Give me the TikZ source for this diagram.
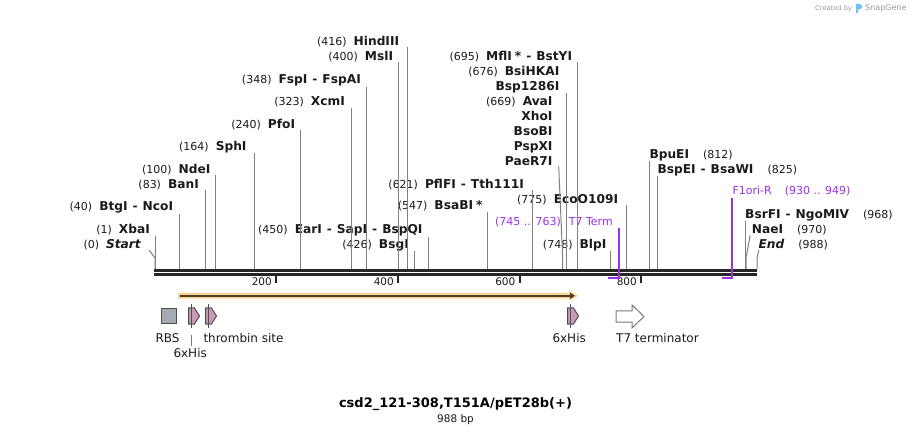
\documentclass[tikz,border=0pt]{standalone}
\usepackage{fontspec}
\setmainfont{DejaVu Sans}
\usepackage{tikz}
\usetikzlibrary{arrows.meta,shapes.symbols}
\definecolor{cback}{HTML}{262626}
\definecolor{csite}{HTML}{808080}
\definecolor{ctext}{HTML}{1A1A1A}
\definecolor{cprimer}{HTML}{9B30E8}
\definecolor{cglow}{HTML}{FBD38C}
\definecolor{cglowline}{HTML}{4A3F2E}
\definecolor{crbs}{HTML}{A5ABB2}
\definecolor{chis}{HTML}{C99AB6}
\definecolor{cfeatborder}{HTML}{4D4D4D}
\definecolor{cterm}{HTML}{7A7A7A}
\definecolor{cwm}{HTML}{9A9A9A}
\definecolor{cwmlogo}{HTML}{6CC4EE}
\newcommand{\enz}[1]{{\fontsize{12.2}{14}\selectfont\bfseries #1}}
\newcommand{\enzsep}{\hspace{5pt}-\hspace{5pt}}
\newcommand{\posgap}{\hspace{7pt}}
\newcommand{\posgapr}{\hspace{14pt}}

\begin{document}
\begin{tikzpicture}[
    x=1pt, y=-1pt,
    lbl/.style={font=\fontsize{11}{13}\selectfont, inner sep=0pt, text=ctext},
    lbll/.style={lbl, anchor=base east},
    lblr/.style={lbl, anchor=base west},
    plbl/.style={lbl, text=cprimer},
    cut/.style={draw=csite, line width=1pt},
    bb/.style={draw=cback, line width=2.7pt},
    tickmark/.style={draw=cback, line width=2pt},
    ticklbl/.style={font=\fontsize{10.5}{12}\selectfont, inner sep=0pt, anchor=base east, text=ctext},
    primer/.style={draw=cprimer, line width=2pt},
    rbs/.style={draw=cfeatborder, fill=crbs, line width=1pt, minimum size=15pt, inner sep=0pt},
    his/.style={signal, signal to=east, signal pointer angle=116, draw=cfeatborder, fill=chis,
                line width=1pt, minimum width=11pt, minimum height=16pt, inner sep=0pt},
    featb/.style={draw=cfeatborder, line width=1pt},
    flbl/.style={font=\fontsize{12}{14}\selectfont, inner sep=0pt, anchor=base west, text=ctext},
    wm/.style={inner sep=0pt, anchor=base west, text=cwm}
]
\useasboundingbox (0,0) rectangle (912,435);

% cut positions on the backbone
\coordinate (c0) at (155,269);
\coordinate (c1) at (155.6,269);
\coordinate (c40) at (179,269);
\coordinate (c83) at (205.6,269);
\coordinate (c100) at (215.5,269);
\coordinate (c164) at (254.5,269);
\coordinate (c240) at (300.5,269);
\coordinate (c323) at (351.5,269);
\coordinate (c348) at (366.5,269);
\coordinate (c400) at (398.3,269);
\coordinate (c416) at (407.5,269);
\coordinate (c426) at (414.3,269);
\coordinate (c450) at (428.5,269);
\coordinate (c547) at (487.5,269);
\coordinate (c621) at (532.5,269);
\coordinate (c669) at (562.7,269);
\coordinate (c676) at (566.7,269);
\coordinate (c695) at (577.5,269);
\coordinate (c748) at (610.3,269);
\coordinate (c775) at (626.5,269);
\coordinate (c812) at (649.7,269);
\coordinate (c825) at (657.7,269);
\coordinate (c968) at (745,269);
\coordinate (c970) at (746,269);
\coordinate (c988) at (757,269);

% enzyme labels, left of their line
\node[lbll] (l0) at (141,248.3) {(0)\posgap\enz{\itshape Start}};
\node[lbll] (l1) at (150,234) {(1)\posgap\enz{XbaI}};
\node[lbll] (l40) at (173.3,210.7) {(40)\posgap\enz{BtgI\enzsep NcoI}};
\node[lbll] (l83) at (199,188.3) {(83)\posgap\enz{BanI}};
\node[lbll] (l100) at (210.7,173.3) {(100)\posgap\enz{NdeI}};
\node[lbll] (l164) at (246.7,150.7) {(164)\posgap\enz{SphI}};
\node[lbll] (l240) at (295.3,128.7) {(240)\posgap\enz{PfoI}};
\node[lbll] (l323) at (345,106) {(323)\posgap\enz{XcmI}};
\node[lbll] (l348) at (361,84) {(348)\posgap\enz{FspI\enzsep FspAI}};
\node[lbll] (l400) at (393.3,60.7) {(400)\posgap\enz{MslI}};
\node[lbll] (l416) at (399.3,45.7) {(416)\posgap\enz{HindIII}};
\node[lbll] (l426) at (409,248.3) {(426)\posgap\enz{BsgI}};
\node[lbll] (l450) at (422.7,234) {(450)\posgap\enz{EarI\enzsep SapI\enzsep BspQI}};
\node[lbll] (l547) at (482.7,210) {(547)\posgap\enz{BsaBI\hspace{3pt}*}};
\node[lbll] (l621) at (524,188.7) {(621)\posgap\enz{PflFI\enzsep Tth111I}};
\node[lbll] (l669a) at (552.7,106) {(669)\posgap\enz{AvaI}};
\node[lbll] (l669b) at (552.7,121) {\enz{XhoI}};
\node[lbll] (l669c) at (552.7,136) {\enz{BsoBI}};
\node[lbll] (l669d) at (552.7,151) {\enz{PspXI}};
\node[lbll] (l669e) at (552.7,166) {\enz{PaeR7I}};
\node[lbll] (l676a) at (559.5,75.7) {(676)\posgap\enz{BsiHKAI}};
\node[lbll] (l676b) at (559.5,90.7) {\enz{Bsp1286I}};
\node[lbll] (l695) at (572.3,60.7) {(695)\posgap\enz{MflI\hspace{3pt}*\enzsep BstYI}};
\node[lbll] (l748) at (606.5,248.3) {(748)\posgap\enz{BlpI}};
\node[lbll] (l775) at (618.3,203.3) {(775)\posgap\enz{EcoO109I}};
\node[plbl, anchor=base east] (t7p) at (613,225.7) {(745 .. 763)\hspace{8pt}T7 Term};

% enzyme labels, right of their line
\node[lblr] (l812) at (649.3,158.3) {\enz{BpuEI}\posgapr(812)};
\node[lblr] (l825) at (657.3,173.3) {\enz{BspEI\enzsep BsaWI}\posgapr(825)};
\node[plbl, anchor=base west] (f1p) at (732.3,195) {F1ori-R\hspace{13pt}(930 .. 949)};
\node[lblr] (l968) at (745,218.3) {\enz{BsrFI\enzsep NgoMIV}\posgapr(968)};
\node[lblr] (l970) at (751.7,233.3) {\enz{NaeI}\posgapr(970)};
\node[lblr] (l988) at (758.3,248.3) {\enz{\itshape End}\posgapr(988)};

% cut lines
\draw[cut] (c0) -- ++(0,-11) -- ([xshift=8pt]l0.south east);
\draw[cut] (c1) -- (c1 |- l1.south);
\draw[cut] (c40) -- (c40 |- l40.south);
\draw[cut] (c83) -- (c83 |- l83.south);
\draw[cut] (c100) -- (c100 |- l100.south);
\draw[cut] (c164) -- (c164 |- l164.south);
\draw[cut] (c240) -- (c240 |- l240.south);
\draw[cut] (c323) -- (c323 |- l323.south);
\draw[cut] (c348) -- (c348 |- l348.south);
\draw[cut] (c400) -- (c400 |- l400.south);
\draw[cut] (c416) -- (c416 |- l416.south);
\draw[cut] (c426) -- (c426 |- l426.south);
\draw[cut] (c450) -- (c450 |- l450.south);
\draw[cut] (c547) -- (c547 |- l547.south);
\draw[cut] (c621) -- (c621 |- l621.south);
\draw[cut] (c669) -- ++(0,-10) -- ([xshift=6pt]l669e.south east);
\draw[cut] (c676) -- (c676 |- l676b.south);
\draw[cut] (c695) -- (c695 |- l695.south);
\draw[cut] (c748) -- (c748 |- l748.south);
\draw[cut] (c775) -- (c775 |- l775.south);
\draw[cut] (c812) -- (c812 |- l812.south);
\draw[cut] (c825) -- (c825 |- l825.south);
\draw[cut] (c968) -- (c968 |- l968.south);
\draw[cut] (c970) -- ++(0,-11) -- ([xshift=-1.5pt]l970.south west);
\draw[cut] (c988) -- ++(0,-11) -- ([xshift=0.5pt]l988.south west);

% backbone
\coordinate (bbL) at (154,270.3);
\coordinate (bbR) at (757.3,270.3);
\draw[bb] (bbL) -- (bbR);
\draw[bb] ([yshift=-4pt]bbL) -- ([yshift=-4pt]bbR);
\foreach \x/\t in {276/200, 398/400, 519.5/600, 641/800} {
  \draw[tickmark] (\x,275.5) -- (\x,283);
  \node[ticklbl] (tk\t) at (\x-4,286) {\t};
}

% primers
\coordinate (p745) at (608,278.3);
\coordinate (p763) at (619.3,278.3);
\coordinate (p930) at (721.7,278.3);
\coordinate (p949) at (732.3,278.3);
\draw[primer] (p745) -- (p763) -- ([yshift=-1pt]p763 |- t7p.south);
\draw[primer] (p930) -- (p949) -- ([yshift=-1pt]p949 |- f1p.south);

% features
\fill[cglow] (178,293) -- (569,293) -- (569,290.5) -- (578,295.8) -- (569,301) -- (569,298.6) -- (178,298.6) -- cycle;
\draw[cglowline, line width=2pt, -{Triangle[length=5pt,width=6pt]}] (180,295.8) -- (575,295.8);

\node[rbs] (rbs) at (168.5,316) {};
\node[his] (his1) at (191.5,316) {};
\node[his] (thr) at (208.5,316) {};
\node[his] (his2) at (570.5,316) {};
\draw[featb] ([yshift=3pt]his1.north) -- ([yshift=-3pt]his1.south);
\draw[featb] ([yshift=3pt]thr.north) -- ([yshift=-3pt]thr.south);
\draw[featb] ([yshift=3pt]his2.north) -- ([yshift=-3pt]his2.south);
\draw[draw=cterm, fill=white, line width=1pt]
  (616,311) -- (632,311) -- (632,305) -- (644,316.5) -- (632,328) -- (632,322) -- (616,322) -- cycle;

\node[flbl] (rbsl) at (155.3,342) {RBS};
\node[flbl] (his1l) at (173.3,357.7) {6xHis};
\node[flbl] (thrl) at (203.3,342) {thrombin site};
\node[flbl] (his2l) at (552.3,342) {6xHis};
\node[flbl] (terml) at (616,342) {T7 terminator};
\draw[draw=cterm, line width=0.8pt] ([yshift=2pt]his1l.north -| his1) -- ++(0,-11.4);

% title
\node[inner sep=0pt, anchor=base, font=\fontsize{13}{15}\selectfont\bfseries] (ttl) at (455.5,407.7) {csd2\_121-308,T151A/pET28b(+)};
\node[inner sep=0pt, anchor=base, font=\fontsize{10.5}{12}\selectfont, text=ctext] (size) at (455.5,422.3) {988 bp};

% watermark
\node[wm, font=\fontsize{6.7}{8}\selectfont] (wm1) at (815,11) {Created by};
\fill[cwmlogo] (856,13) -- (856,4) .. controls (860,3.5) and (863,5) .. (862,8) .. controls (861,9.5) and (858,9.5) .. (858,9.5) -- (858,13) -- cycle;
\node[wm, font=\fontsize{8}{9}\selectfont] (wm2) at (865,11) {SnapGene};
\end{tikzpicture}
\end{document}
